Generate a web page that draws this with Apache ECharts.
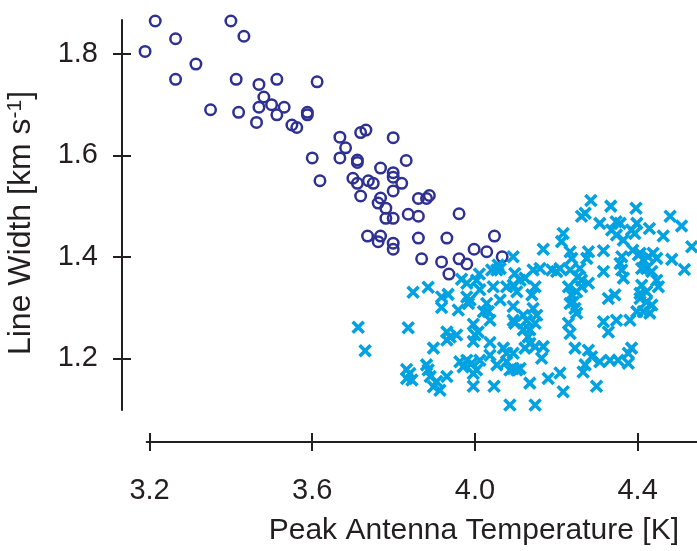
<!DOCTYPE html>
<html>
<head>
    <meta charset="UTF-8">
    <title>Line width vs peak antenna temperature</title>
    <script src="https://cdn.jsdelivr.net/npm/echarts@6/dist/echarts.min.js"></script>
    <style>
        html, body { margin: 0; padding: 0; background: #fff; }
        #chart { width: 697px; height: 551px; }
    </style>
</head>
<body>
<div id="chart"></div>
<script type="text/javascript">
    // tick labels
    var xTicks = [3.2, 3.6, 4.0, 4.4];
    var yTicks = [1.2, 1.4, 1.6, 1.8];

    // dark blue circles [peak T, line width]
    var circlePoints = [
        [3.214,1.865],[3.400,1.865],[3.264,1.830],[3.432,1.835],[3.189,1.805],[3.314,1.780],
        [3.264,1.750],[3.413,1.750],[3.469,1.740],[3.513,1.750],[3.612,1.745],[3.481,1.715],
        [3.500,1.700],[3.531,1.695],[3.469,1.695],[3.350,1.690],[3.419,1.685],[3.513,1.680],
        [3.588,1.685],[3.588,1.680],[3.463,1.665],[3.550,1.660],[3.562,1.655],[3.668,1.636],
        [3.719,1.645],[3.732,1.650],[3.799,1.635],[3.682,1.615],[3.600,1.595],[3.668,1.595],
        [3.711,1.591],[3.711,1.586],[3.831,1.590],[3.768,1.575],[3.799,1.566],[3.799,1.557],
        [3.700,1.555],[3.711,1.545],[3.738,1.550],[3.750,1.545],[3.820,1.545],[3.619,1.550],
        [3.799,1.530],[3.719,1.520],[3.768,1.516],[3.762,1.506],[3.781,1.496],[3.861,1.515],
        [3.881,1.515],[3.888,1.521],[3.781,1.476],[3.799,1.476],[3.836,1.484],[3.861,1.480],
        [3.961,1.485],[3.736,1.441],[3.768,1.441],[3.762,1.430],[3.799,1.427],[3.799,1.415],
        [3.861,1.437],[3.931,1.437],[4.048,1.441],[3.998,1.415],[4.029,1.410],[3.869,1.396],
        [3.918,1.390],[3.961,1.396],[3.980,1.386],[3.936,1.366],[4.067,1.400]
    ];

    // cyan crosses [peak T, line width]
    var crossPoints = [
        [4.094,1.400],[4.057,1.384],[4.054,1.374],[4.062,1.377],[4.011,1.366],[4.004,1.354],
        [3.967,1.356],[3.980,1.348],[3.885,1.340],[3.848,1.330],[3.918,1.321],[3.934,1.326],
        [3.918,1.300],[3.959,1.295],[3.980,1.321],[3.988,1.315],[3.984,1.308],[4.012,1.335],
        [4.045,1.341],[4.029,1.308],[4.021,1.292],[4.033,1.292],[4.062,1.315],[4.094,1.302],
        [4.094,1.275],[3.713,1.261],[3.836,1.260],[3.996,1.267],[4.037,1.275],[3.730,1.215],
        [3.931,1.252],[3.939,1.242],[3.955,1.246],[3.931,1.236],[4.000,1.246],[4.008,1.252],
        [3.996,1.233],[3.898,1.220],[4.037,1.231],[4.070,1.220],[4.078,1.210],[4.094,1.210],
        [3.832,1.178],[3.840,1.170],[3.832,1.160],[3.845,1.157],[3.881,1.187],[3.885,1.177],
        [3.890,1.164],[3.906,1.154],[3.898,1.144],[3.914,1.137],[3.931,1.164],[3.963,1.193],
        [3.980,1.196],[3.971,1.183],[3.992,1.190],[4.012,1.196],[4.037,1.206],[4.054,1.187],
        [4.004,1.177],[3.996,1.170],[4.086,1.177],[4.103,1.177],[3.996,1.145],[4.047,1.145],
        [4.086,1.108],[4.041,1.374],
        [4.285,1.511],[4.334,1.500],[4.396,1.496],[4.480,1.480],[4.508,1.461],[4.271,1.486],
        [4.262,1.480],[4.307,1.466],[4.347,1.469],[4.357,1.466],[4.336,1.453],[4.348,1.443],
        [4.365,1.433],[4.385,1.453],[4.398,1.466],[4.393,1.446],[4.429,1.456],[4.463,1.441],
        [4.533,1.420],[4.217,1.446],[4.213,1.430],[4.168,1.415],[4.234,1.410],[4.238,1.397],
        [4.279,1.410],[4.275,1.397],[4.316,1.412],[4.361,1.400],[4.357,1.387],[4.388,1.413],
        [4.402,1.404],[4.414,1.394],[4.426,1.400],[4.438,1.407],[4.447,1.397],[4.484,1.395],
        [4.515,1.375],[4.422,1.377],[4.435,1.371],[4.447,1.354],[4.451,1.341],[4.410,1.344],
        [4.422,1.331],[4.143,1.374],[4.160,1.377],[4.189,1.374],[4.201,1.371],[4.209,1.377],
        [4.234,1.374],[4.258,1.377],[4.254,1.361],[4.262,1.354],[4.279,1.348],[4.262,1.341],
        [4.250,1.331],[4.316,1.371],[4.361,1.374],[4.365,1.358],[4.098,1.367],[4.111,1.354],
        [4.123,1.358],[4.078,1.341],[4.094,1.344],[4.103,1.331],[4.148,1.341],[4.140,1.325],
        [4.230,1.341],[4.238,1.325],[4.242,1.311],[4.246,1.298],[4.234,1.308],[4.250,1.289],
        [4.328,1.318],[4.344,1.325],[4.406,1.318],[4.422,1.311],[4.435,1.305],[4.430,1.289],
        [4.414,1.292],[4.398,1.292],[4.381,1.275],[4.348,1.275],[4.316,1.272],[4.328,1.252],
        [4.230,1.269],[4.234,1.249],[4.119,1.285],[4.127,1.275],[4.098,1.269],[4.143,1.298],
        [4.152,1.285],[4.148,1.269],[4.135,1.256],[4.131,1.242],[4.119,1.256],[4.135,1.229],
        [4.123,1.220],[4.148,1.223],[4.168,1.223],[4.164,1.200],[4.078,1.193],[4.094,1.180],
        [4.111,1.180],[4.135,1.151],[4.180,1.160],[4.209,1.171],[4.217,1.134],[4.246,1.220],
        [4.279,1.216],[4.287,1.203],[4.271,1.187],[4.266,1.173],[4.307,1.193],[4.332,1.196],
        [4.352,1.196],[4.377,1.210],[4.385,1.220],[4.377,1.190],[4.299,1.145],[4.148,1.108],
        [4.406,1.407],[4.410,1.377],[4.406,1.328]
    ];

    var ink = '#231f20';
    var labelFont = 'Liberation Sans';

    var myChart = echarts.init(document.getElementById('chart'), null, {renderer: 'canvas'});

    // inner=true gives a bare copy of the axis with inside ticks, so ticks cross the line
    function baseX(inner) {
        return {
            type: 'value',
            position: 'bottom',
            offset: 32,
            min: 3.193,
            max: 4.546,
            splitLine: {show: false},
            axisLine: {show: !inner, lineStyle: {color: ink, width: 2}},
            axisTick: {show: true, inside: inner, length: 9, customValues: xTicks,
                lineStyle: {color: ink, width: 2}},
            axisLabel: {show: !inner, customValues: xTicks, margin: 34,
                color: ink, fontSize: 29, fontFamily: labelFont,
                formatter: function (v) { return v.toFixed(1); }}
        };
    }

    function baseY(inner) {
        return {
            type: 'value',
            position: 'left',
            offset: 24.7,
            min: 1.098,
            max: 1.867,
            splitLine: {show: false},
            axisLine: {show: !inner, lineStyle: {color: ink, width: 2}},
            axisTick: {show: true, inside: inner, length: 9, customValues: yTicks,
                lineStyle: {color: ink, width: 2}},
            axisLabel: {show: !inner, customValues: yTicks, margin: 24,
                color: ink, fontSize: 29, fontFamily: labelFont,
                formatter: function (v) { return v.toFixed(1); }}
        };
    }

    var xMain = baseX(false);
    xMain.name = 'Peak Antenna Temperature [K]';
    xMain.nameLocation = 'middle';
    xMain.nameGap = 74;
    xMain.nameTextStyle = {color: ink, fontSize: 30, fontFamily: labelFont, padding: [0, 0, 0, 104]};

    var yMain = baseY(false);
    yMain.name = '{a|Line Width [km s}{b|-1}{a|]}';
    yMain.nameLocation = 'middle';
    yMain.nameGap = 84;
    yMain.nameTextStyle = {
        color: ink, fontFamily: labelFont,
        padding: [0, 16, 0, 0],
        rich: {
            a: {fontSize: 32, color: ink, fontFamily: labelFont},
            b: {fontSize: 21, color: ink, fontFamily: labelFont, verticalAlign: 'top', padding: [0, 0, 12, 0]}
        }
    };

    var option = {
        animation: false,
        backgroundColor: '#fff',
        grid: {left: 146.7, right: 0, top: 20, bottom: 141, containLabel: false, outerBoundsMode: 'none'},
        xAxis: [xMain, baseX(true)],
        yAxis: [yMain, baseY(true)],
        series: [
            {
                name: 'circles',
                type: 'scatter',
                clip: false,
                symbol: 'circle',
                symbolSize: 10.5,
                itemStyle: {color: 'rgba(0,0,0,0)', borderColor: '#2e3192', borderWidth: 2.5, opacity: 1},
                data: circlePoints
            },
            {
                name: 'crosses',
                type: 'scatter',
                clip: false,
                symbol: 'path://M0,0L10,10M10,0L0,10',
                symbolSize: 11,
                itemStyle: {color: 'rgba(0,0,0,0)', borderColor: '#00a2e1', borderWidth: 3.6, opacity: 1},
                data: crossPoints
            }
        ]
    };
    myChart.setOption(option);
</script>
</body>
</html>
